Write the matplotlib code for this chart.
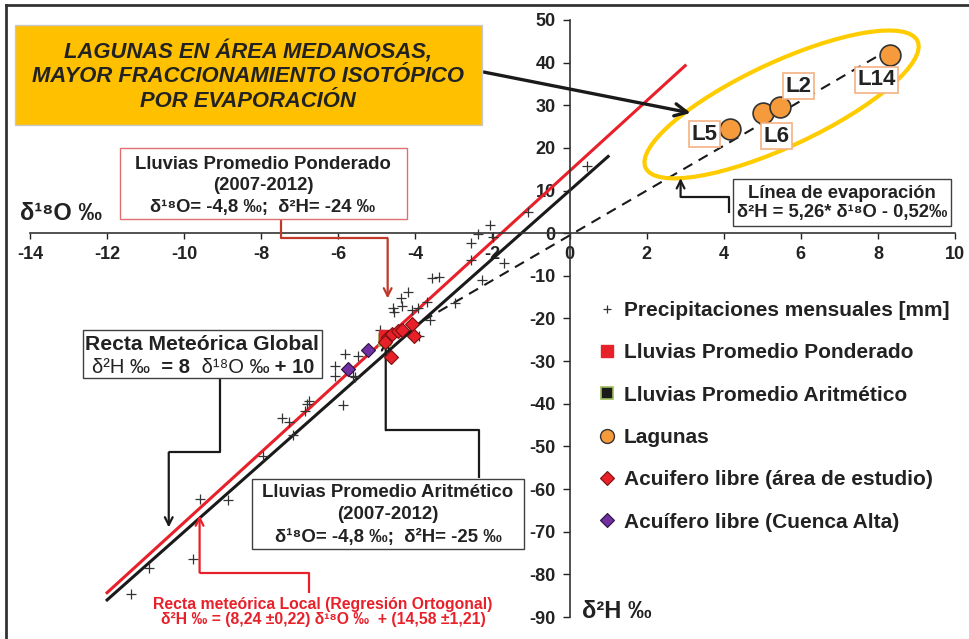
import matplotlib
matplotlib.use("Agg")
import matplotlib.pyplot as plt
import numpy as np
from matplotlib.patches import Rectangle, Ellipse
from matplotlib.lines import Line2D
from matplotlib.text import Annotation
from matplotlib.transforms import Affine2D, ScaledTranslation

plt.rcParams['font.family'] = ['Liberation Sans', 'DejaVu Sans']
plt.rcParams['font.weight'] = 'bold'
plt.rcParams['axes.unicode_minus'] = False

# precipitaciones mensuales (d18O, d2H)
precip_o18 = [0.44, -1.08, -2.07, -1.99, -2.38, -2.56, -2.56, -1.70, -2.28, -3.56,
              -3.39, -4.19, -4.38, -4.58, -4.35, -4.55, -4.09, -3.92, -3.69, -2.98,
              -3.62, -4.91, -3.90, -5.83, -5.48, -6.09, -6.09, -5.63, -5.57, -6.75,
              -6.80, -5.89, -6.87, -7.45, -7.28, -7.18, -7.95, -9.60, -8.87, -9.77,
              -10.90, -11.37]
precip_h2 = [15.7, 4.9, 2.0, -0.9, -0.2, -2.2, -6.3, -7.1, -11.0, -10.5,
             -10.3, -13.8, -15.1, -17.5, -17.1, -18.5, -18.1, -17.5, -16.1, -16.4,
             -20.4, -22.6, -24.0, -28.4, -28.9, -31.2, -33.6, -33.6, -33.7, -39.4,
             -40.1, -40.2, -41.7, -43.4, -44.3, -47.3, -52.3, -62.4, -62.5, -76.4,
             -78.6, -84.6]

pond_o18 = [-4.8]
pond_h2 = [-24]
arit_o18 = [-4.8]
arit_h2 = [-25]

lagunas = ['L5', 'L6', 'L2', 'L14']
lag_o18 = [4.17, 5.03, 5.47, 8.32]
lag_h2 = [24.4, 28.2, 29.6, 41.8]

acu_o18 = [-4.70, -4.60, -4.45, -4.35, -4.08, -4.03, -4.64, -4.80]
acu_h2 = [-24.3, -23.6, -23.0, -22.6, -21.4, -24.0, -29.0, -25.5]

alta_o18 = [-5.22, -5.76]
alta_h2 = [-27.3, -31.8]

# rectas: pendiente, ordenada, desde, hasta
rml = (8.24, 14.58, -12, 3)      # recta meteorica local
rmg = (8, 10, -12, 1)            # recta meteorica global
evap = (5.26, -0.52, -3.8, 8.3)  # linea de evaporacion

etiquetas = ['Precipitaciones mensuales [mm]', 'Lluvias Promedio Ponderado',
             'Lluvias Promedio Aritmético', 'Lagunas',
             'Acuifero libre (área de estudio)', 'Acuífero libre (Cuenca Alta)']

ROJO = '#E8202A'
NEGRO = '#1a1a1a'
TXT = '#222222'
W, H = 970, 639


def fx(x):
    return x / W


def fy(y):
    return 1 - y / H


fig = plt.figure(figsize=(9.7, 6.39), dpi=100)
ax = fig.add_axes([fx(30), fy(617), fx(925), 597 / H])
ax.set_xlim(-14, 10)
ax.set_ylim(-90, 50)
ax.spines['left'].set_position(('data', 0))
ax.spines['bottom'].set_position(('data', 0))
ax.spines['top'].set_visible(False)
ax.spines['right'].set_visible(False)
for s in ['left', 'bottom']:
    ax.spines[s].set_color('#333333')
    ax.spines[s].set_linewidth(1.2)
ax.set_xticks(np.arange(-14, 11, 2))
ax.set_yticks(np.arange(-90, 51, 10))
ax.tick_params(axis='x', direction='out', length=4, width=1, pad=5, labelsize=13, colors=TXT)
ax.tick_params(axis='y', direction='out', length=5, width=1, pad=5, labelsize=13, colors=TXT)
ax.patch.set_visible(False)

# rectas
for (m, b, x0, x1), col, ls, lw in [(rml, ROJO, '-', 2.2), (rmg, NEGRO, '-', 2.2),
                                    (evap, NEGRO, '--', 1.5)]:
    xs = np.array([x0, x1])
    line, = ax.plot(xs, m * xs + b, color=col, ls=ls, lw=lw, zorder=2)
    if ls == '--':
        line.set_dashes((5, 3.5))

# elipse de las lagunas
tr = Affine2D().scale(1 / 72) + fig.dpi_scale_trans + ScaledTranslation(5.5, 30.2, ax.transData)
ax.add_patch(Ellipse((0, 0), 300 * 0.72, 84 * 0.72, angle=25, transform=tr,
                     fill=False, ec='#FFCC00', lw=3, zorder=2))

# puntos
ax.plot(precip_o18, precip_h2, '+', color='#333333', ms=6.5, mew=0.9, zorder=3)
ax.plot(arit_o18, arit_h2, 's', mfc=NEGRO, mec='#9BBB59', ms=9, mew=1.2, zorder=4)
ax.plot(pond_o18, pond_h2, 's', mfc=ROJO, mec=ROJO, ms=9, zorder=5)
ax.plot(acu_o18, acu_h2, 'D', mfc=ROJO, mec='#7a1010', ms=7.5, mew=0.8, zorder=6)
ax.plot(alta_o18, alta_h2, 'D', mfc='#7030A0', mec='#2a1040', ms=7.5, mew=0.8, zorder=6)
ax.plot(lag_o18, lag_h2, 'o', mfc='#F59B3B', mec='#333333', ms=15, mew=1.2, zorder=6)

offs = [(-18.7, -3.6), (9.4, -16.6), (13, 15.1), (-10, -18)]
for name, x, y, off in zip(lagunas, lag_o18, lag_h2, offs):
    ax.annotate(name, xy=(x, y), xytext=off, textcoords='offset points', ha='center',
                va='center', fontsize=16, color=TXT, zorder=7,
                bbox=dict(boxstyle='square,pad=0.12', fc='white', ec='#F4B183', lw=1.2))


# conectores
def conector(xs, ys, col, lw=1.6, ms=14):
    ax.plot(xs[:-1], ys[:-1], color=col, lw=lw, clip_on=False, zorder=3,
            solid_capstyle='butt')
    ax.annotate('', xy=(xs[-1], ys[-1]), xytext=(xs[-2], ys[-2]),
                arrowprops=dict(arrowstyle='->', color=col, lw=lw, shrinkA=0, shrinkB=0,
                                mutation_scale=ms), zorder=3)


conector([-7.50, -7.50, -4.72, -4.72], [3.3, -1.2, -1.2, -15.3], '#C0392B')
conector([-9.06, -9.06, -10.40, -10.40], [-34.0, -51.4, -51.4, -69.0], NEGRO)
conector([-2.36, -2.36, -4.77, -4.77], [-57.5, -46.2, -46.2, -25.1], NEGRO)
conector([-6.77, -6.77, -9.60, -9.60], [-84.3, -79.6, -79.6, -66.2], ROJO)
conector([4.13, 4.13, 2.88, 2.88], [4.7, 8.5, 8.5, 12.9], NEGRO)
ax.annotate('', xy=(3.14, 28.2), xytext=(-2.23, 37.8),
            arrowprops=dict(arrowstyle='->', color=NEGRO, lw=2.4, shrinkA=0, shrinkB=0,
                            mutation_scale=22))


# cajas de texto
def caja(x0, y0, x1, y1, fc='white', ec='#404040', lw=1.0):
    fig.add_artist(Rectangle((fx(x0), fy(y1)), fx(x1) - fx(x0), fy(y0) - fy(y1),
                             transform=fig.transFigure, fc=fc, ec=ec, lw=lw, zorder=2))


caja(15, 25, 482, 125, fc='#FFC000', ec='#C8C8C8')
fig.text(fx(248), fy(76), 'LAGUNAS EN ÁREA MEDANOSAS,\nMAYOR FRACCIONAMIENTO ISOTÓPICO\nPOR EVAPORACIÓN',
         ha='center', va='center', style='italic', fontsize=15.8, linespacing=1.2, color=TXT)

caja(120, 148, 407, 219, ec='#E07070')
fig.text(fx(263), fy(186), 'Lluvias Promedio Ponderado\n(2007-2012)\nδ¹⁸O= -4,8 ‰;  δ²H= -24 ‰',
         ha='center', va='center', fontsize=13.3, linespacing=1.36, color=TXT)

caja(733, 179, 951, 226)
fig.text(fx(842), fy(203), 'Línea de evaporación\nδ²H = 5,26* δ¹⁸O - 0,52‰',
         ha='center', va='center', fontsize=13.2, linespacing=1.1, color=TXT)

caja(252, 479, 524, 549)
fig.text(fx(388), fy(515), 'Lluvias Promedio Aritmético\n(2007-2012)\nδ¹⁸O= -4,8 ‰;  δ²H= -25 ‰',
         ha='center', va='center', fontsize=13.4, linespacing=1.42, color=TXT)

caja(83, 330, 322, 378)
fig.text(fx(202), fy(344), 'Recta Meteórica Global', ha='center', va='center',
         fontsize=15.2, color=TXT)
prev = fig.text(fx(92), fy(377), 'δ²H ‰', ha='left', va='bottom', fontsize=14.5,
                fontweight='normal', color=TXT)
for s, wgt in [('  = 8 ', 'bold'), (' δ¹⁸O ‰', 'normal'), (' + 10', 'bold')]:
    prev = fig.add_artist(Annotation(s, xy=(1, 0), xycoords=prev, ha='left', va='bottom',
                                     fontsize=14.5, fontweight=wgt, color=TXT, zorder=4))

fig.text(fx(323), fy(612), 'Recta meteórica Local (Regresión Ortogonal)\n'
         'δ²H ‰ = (8,24 ±0,22) δ¹⁸O ‰  + (14,58 ±1,21)',
         ha='center', va='center', fontsize=11.3, linespacing=1.05, color=ROJO)

fig.text(fx(20), fy(214), 'δ¹⁸O ‰', ha='left', va='center', fontsize=17, color=TXT)
fig.text(fx(582), fy(612), 'δ²H ‰', ha='left', va='center', fontsize=17, color=TXT)

# leyenda
handles = [Line2D([], [], ls='none', marker='+', color='#333333', ms=6, mew=0.9),
           Line2D([], [], ls='none', marker='s', mfc=ROJO, mec=ROJO, ms=9),
           Line2D([], [], ls='none', marker='s', mfc=NEGRO, mec='#9BBB59', ms=8, mew=1.2),
           Line2D([], [], ls='none', marker='o', mfc='#F59B3B', mec='#333333', ms=10),
           Line2D([], [], ls='none', marker='D', mfc=ROJO, mec='#7a1010', ms=7, mew=0.8),
           Line2D([], [], ls='none', marker='D', mfc='#7030A0', mec='#2a1040', ms=7, mew=0.8)]
leg = fig.legend(handles, etiquetas, loc='upper left', bbox_to_anchor=(fx(596.5), fy(301)),
                 frameon=False, fontsize=15, handlelength=1.0, handletextpad=0.32,
                 labelspacing=1.12, borderpad=0, borderaxespad=0)
for t in leg.get_texts():
    t.set_color(TXT)

# marco
fig.add_artist(Line2D([fx(6), 1], [fy(5), fy(5)], color='#333333', lw=2))
fig.add_artist(Line2D([fx(6), fx(6)], [fy(5), 0], color='#333333', lw=2))

fig.savefig('out.png', dpi=100)
